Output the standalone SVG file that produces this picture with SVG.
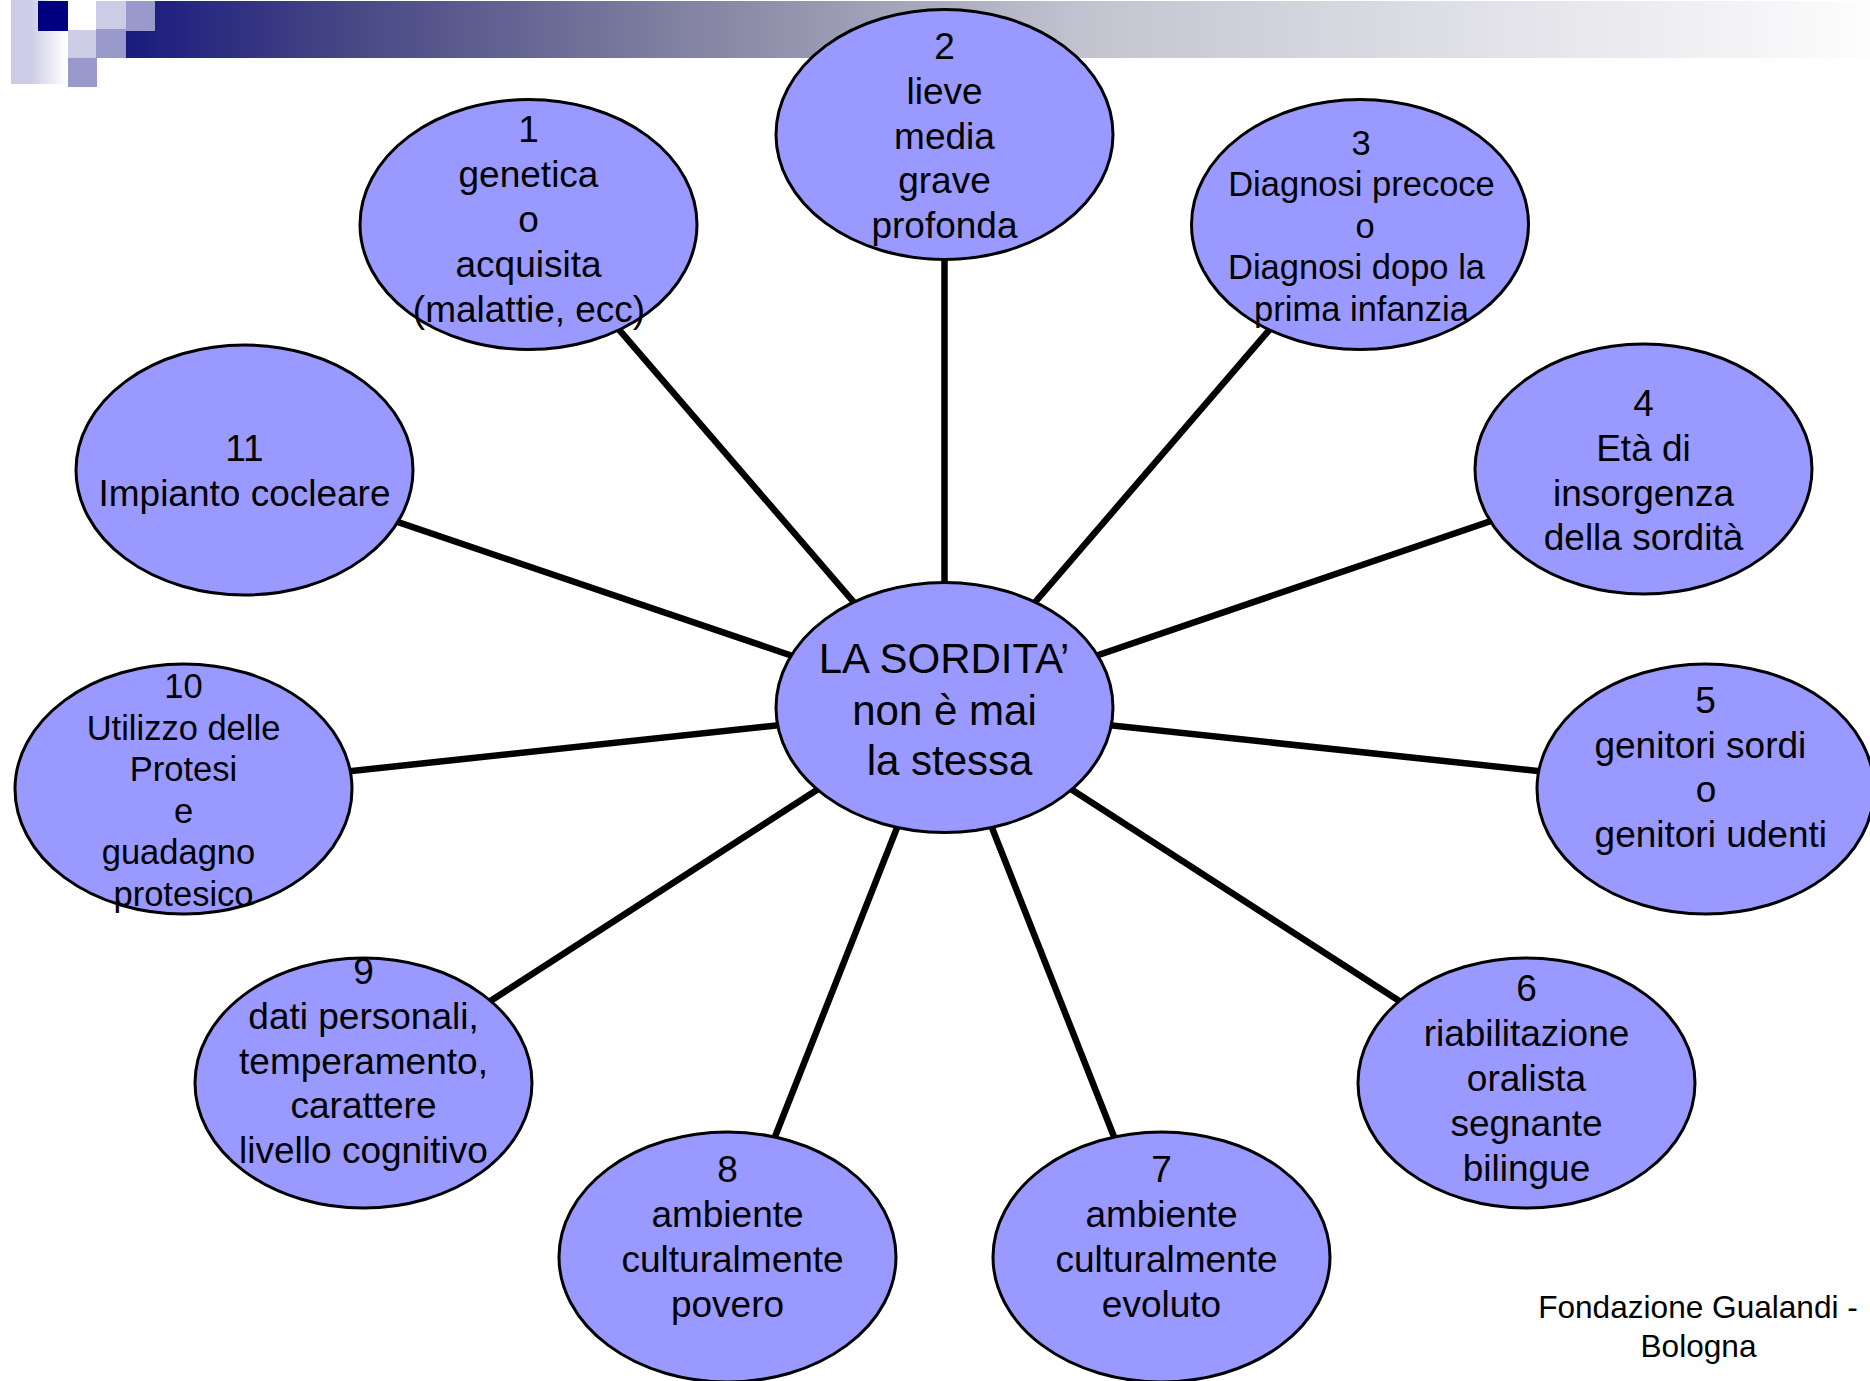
<svg xmlns="http://www.w3.org/2000/svg" width="1870" height="1381" viewBox="0 0 1870 1381">
<defs>
<linearGradient id="bar" gradientUnits="userSpaceOnUse" x1="126" y1="0" x2="1870" y2="0">
<stop offset="0" stop-color="#1A1A7E"/>
<stop offset="0.128" stop-color="#474785"/>
<stop offset="0.329" stop-color="#8585A3"/>
<stop offset="0.558" stop-color="#C5C5D2"/>
<stop offset="1" stop-color="#FDFDFD"/>
</linearGradient>
<linearGradient id="fade" x1="0" y1="0" x2="1" y2="0">
<stop offset="0" stop-color="#CCCCE6"/>
<stop offset="0.35" stop-color="#CCCCE6"/>
<stop offset="1" stop-color="#FFFFFF"/>
</linearGradient>
<style>
.node ellipse{fill:#9999FF;stroke:#000;stroke-width:3}
.conn line{stroke:#000;stroke-width:6.5}
text{font-family:"Liberation Sans",Arial,sans-serif;fill:#000;text-anchor:middle}
.t37{font-size:37px}
.t34{font-size:34.5px}
.t42{font-size:42px}
.foot{font-size:31.6px}
</style>
</defs>
<rect width="1870" height="1381" fill="#FFFFFF"/>
<g id="header">
<rect x="11" y="0" width="56" height="84" fill="url(#fade)"/>
<rect x="126" y="1" width="1744" height="57" fill="url(#bar)"/>
<rect x="38" y="1" width="30" height="30" fill="#000080"/>
<rect x="68" y="30" width="28" height="28" fill="#CCCCE6"/>
<rect x="68" y="58" width="29" height="29" fill="#9999CC"/>
<rect x="96" y="1" width="30" height="28" fill="#CCCCE6"/>
<rect x="96" y="29" width="30" height="29" fill="#9999CC"/>
<rect x="126" y="1" width="29" height="30" fill="#9999CC"/>
</g>
<g id="connectors" class="conn">
<line x1="944.5" y1="707.5" x2="528.5" y2="224.5"/>
<line x1="944.5" y1="707.5" x2="944.5" y2="134.5"/>
<line x1="944.5" y1="707.5" x2="1360" y2="224.5"/>
<line x1="944.5" y1="707.5" x2="244.5" y2="470"/>
<line x1="944.5" y1="707.5" x2="1643.5" y2="469"/>
<line x1="944.5" y1="707.5" x2="183.5" y2="789"/>
<line x1="944.5" y1="707.5" x2="1705.5" y2="789"/>
<line x1="944.5" y1="707.5" x2="363.5" y2="1083"/>
<line x1="944.5" y1="707.5" x2="1526.5" y2="1083"/>
<line x1="944.5" y1="707.5" x2="727.5" y2="1257"/>
<line x1="944.5" y1="707.5" x2="1161.5" y2="1257"/>
</g>
<g id="node-center" class="node">
<ellipse cx="944.5" cy="707.5" rx="168.5" ry="125"/>
<text class="t42" x="944" y="673">LA SORDITA’</text>
<text class="t42" x="944.5" y="724.5">non è mai</text>
<text class="t42" x="949.5" y="774.5">la stessa</text>
</g>
<g id="node-1" class="node">
<ellipse cx="528.5" cy="224.5" rx="168.5" ry="125"/>
<text class="t37" x="528.5" y="142">1</text>
<text class="t37" x="528.5" y="187">genetica</text>
<text class="t37" x="528.5" y="232">o</text>
<text class="t37" x="528.5" y="277">acquisita</text>
<text class="t37" x="529" y="322">(malattie, ecc)</text>
</g>
<g id="node-2" class="node">
<ellipse cx="944.5" cy="134.5" rx="168.5" ry="125"/>
<text class="t37" x="944.5" y="59">2</text>
<text class="t37" x="944.5" y="104">lieve</text>
<text class="t37" x="944.5" y="148.5">media</text>
<text class="t37" x="944.5" y="193">grave</text>
<text class="t37" x="944.5" y="237.5">profonda</text>
</g>
<g id="node-3" class="node">
<ellipse cx="1360" cy="224.5" rx="168.5" ry="125"/>
<text class="t34" x="1361" y="154.5">3</text>
<text class="t34" x="1361.5" y="196">Diagnosi precoce</text>
<text class="t34" x="1365" y="237.7">o</text>
<text class="t34" x="1356.5" y="279.3">Diagnosi dopo la</text>
<text class="t34" x="1361.5" y="321">prima infanzia</text>
</g>
<g id="node-4" class="node">
<ellipse cx="1643.5" cy="469" rx="168.5" ry="125"/>
<text class="t37" x="1643.5" y="416">4</text>
<text class="t37" x="1643.5" y="461">Età di</text>
<text class="t37" x="1643.5" y="505.5">insorgenza</text>
<text class="t37" x="1643.5" y="550">della sordità</text>
</g>
<g id="node-5" class="node">
<ellipse cx="1705.5" cy="789" rx="168.5" ry="125"/>
<text class="t37" x="1705.5" y="712.5">5</text>
<text class="t37" x="1700.4" y="757.5">genitori sordi</text>
<text class="t37" x="1706" y="802">o</text>
<text class="t37" x="1710.8" y="846.5">genitori udenti</text>
</g>
<g id="node-6" class="node">
<ellipse cx="1526.5" cy="1083" rx="168.5" ry="125"/>
<text class="t37" x="1526.5" y="1001">6</text>
<text class="t37" x="1526.5" y="1046">riabilitazione</text>
<text class="t37" x="1526.5" y="1091">oralista</text>
<text class="t37" x="1526.5" y="1135.5">segnante</text>
<text class="t37" x="1526.5" y="1180.5">bilingue</text>
</g>
<g id="node-7" class="node">
<ellipse cx="1161.5" cy="1257" rx="168.5" ry="125"/>
<text class="t37" x="1161.5" y="1182">7</text>
<text class="t37" x="1161.5" y="1227">ambiente</text>
<text class="t37" x="1166.5" y="1271.5">culturalmente</text>
<text class="t37" x="1161.5" y="1316.5">evoluto</text>
</g>
<g id="node-8" class="node">
<ellipse cx="727.5" cy="1257" rx="168.5" ry="125"/>
<text class="t37" x="727.5" y="1182">8</text>
<text class="t37" x="727.5" y="1227">ambiente</text>
<text class="t37" x="732.6" y="1271.5">culturalmente</text>
<text class="t37" x="727.5" y="1316.5">povero</text>
</g>
<g id="node-9" class="node">
<ellipse cx="363.5" cy="1083" rx="168.5" ry="125"/>
<text class="t37" x="363.5" y="984">9</text>
<text class="t37" x="363.5" y="1029">dati personali,</text>
<text class="t37" x="363.5" y="1073.5">temperamento,</text>
<text class="t37" x="363.5" y="1118">carattere</text>
<text class="t37" x="363.5" y="1162.5">livello cognitivo</text>
</g>
<g id="node-10" class="node">
<ellipse cx="183.5" cy="789" rx="168.5" ry="125"/>
<text class="t34" x="183.5" y="698">10</text>
<text class="t34" x="183.5" y="739.6">Utilizzo delle</text>
<text class="t34" x="183.5" y="781.2">Protesi</text>
<text class="t34" x="183.5" y="822.8">e</text>
<text class="t34" x="178.5" y="864.4">guadagno</text>
<text class="t34" x="183.5" y="906">protesico</text>
</g>
<g id="node-11" class="node">
<ellipse cx="244.5" cy="470" rx="168.5" ry="125"/>
<text class="t37" x="244.5" y="461">11</text>
<text class="t37" x="244.5" y="505.5">Impianto cocleare</text>
</g>
<g id="footer">
<text class="foot" x="1698" y="1318">Fondazione Gualandi -</text>
<text class="foot" x="1698.5" y="1357">Bologna</text>
</g>
</svg>
